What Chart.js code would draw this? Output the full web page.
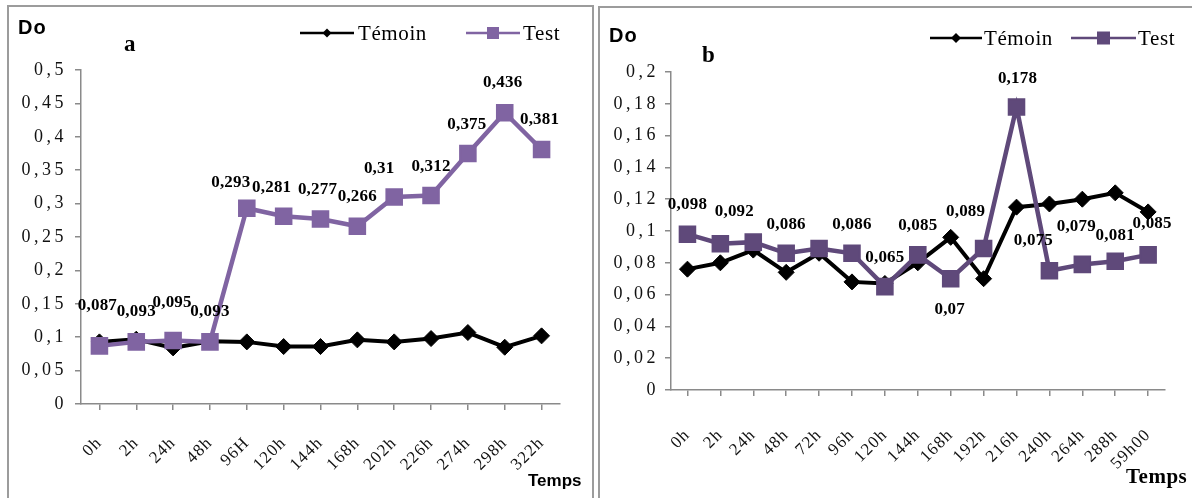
<!DOCTYPE html>
<html>
<head>
<meta charset="utf-8">
<script src="https://cdn.jsdelivr.net/npm/chart.js@4.4.1/dist/chart.umd.min.js"></script>
<style>
  html, body { margin: 0; padding: 0; background: #fff; width: 1192px; height: 498px; overflow: hidden; }
  .panel { position: absolute; border: 2px solid #9c9c9c; border-bottom: none; box-sizing: border-box; }
  #pa { left: 7px; top: 5px; width: 587px; height: 500px; }
  #pb { left: 598px; top: 6px; width: 600px; height: 500px; border-right: none; }
  canvas { position: absolute; top: 0; }
  #ca { left: 0; }
  #cb { left: 596px; }
</style>
</head>
<body>
<div class="panel" id="pa"></div>
<div class="panel" id="pb"></div>
<canvas id="ca" width="596" height="498"></canvas>
<canvas id="cb" width="596" height="498"></canvas>
<script>
// Panel a
const hoursA = ['0h', '2h', '24h', '48h', '96H', '120h', '144h', '168h', '202h', '226h', '274h', '298h', '322h'];
const temoinA = [0.093, 0.097, 0.084, 0.094, 0.093, 0.086, 0.086, 0.096, 0.093, 0.098, 0.107, 0.085, 0.102];
const testA = [0.087, 0.093, 0.095, 0.093, 0.293, 0.281, 0.277, 0.266, 0.31, 0.312, 0.375, 0.436, 0.381];
const yTicksA = [0, 0.05, 0.1, 0.15, 0.2, 0.25, 0.3, 0.35, 0.4, 0.45, 0.5];

// Panel b
const hoursB = ['0h', '2h', '24h', '48h', '72h', '96h', '120h', '144h', '168h', '192h', '216h', '240h', '264h', '288h', '59h00'];
const temoinB = [0.076, 0.08, 0.088, 0.074, 0.086, 0.068, 0.067, 0.08, 0.096, 0.07, 0.115, 0.117, 0.12, 0.124, 0.112];
const testB = [0.098, 0.092, 0.093, 0.086, 0.089, 0.086, 0.065, 0.085, 0.07, 0.089, 0.178, 0.075, 0.079, 0.081, 0.085];
const yTicksB = [0, 0.02, 0.04, 0.06, 0.08, 0.1, 0.12, 0.14, 0.16, 0.18, 0.2];

// Where each value label of the Test series sits relative to its marker (null = no label)
const labelShiftA = [[-2, -40], [0, -30], [-1, -38], [0, -30], [-16, -26], [-12, -29], [-3, -29], [0, -30],
                     [-15, -28], [0, -29], [-1, -29], [-2, -30], [-2, -30]];
const labelShiftB = [[0, -30], [14, -32], null, [0, -29], null, [0, -29], [0, -29], [0, -29],
                     [-1, 31], [-18, -37], [1, -28], [-16, -30], [-6, -38], [0, -26], [4, -31]];

const fmt = v => String(Number(v.toFixed(3))).replace('.', ',');

// Value labels above the Test markers
const valueLabels = {
  id: 'valueLabels',
  afterDatasetsDraw(chart, args, opts) {
    const ctx = chart.ctx;
    const idx = chart.data.datasets.findIndex(d => d.label === 'Test');
    const meta = chart.getDatasetMeta(idx);
    const data = chart.data.datasets[idx].data;
    ctx.save();
    ctx.font = 'bold 17px "Liberation Serif"';
    ctx.letterSpacing = '0.2px';
    ctx.fillStyle = '#000';
    ctx.textAlign = 'center';
    ctx.textBaseline = 'middle';
    meta.data.forEach((pt, i) => {
      const s = opts.shift[i];
      if (!s) return;
      ctx.fillText(fmt(data[i]), pt.x + s[0], pt.y + s[1]);
    });
    ctx.restore();
  }
};

function drawMarker(ctx, style, x, y, r, color) {
  ctx.fillStyle = color;
  ctx.beginPath();
  if (style === 'rectRot') {
    ctx.moveTo(x, y - r); ctx.lineTo(x + r, y); ctx.lineTo(x, y + r); ctx.lineTo(x - r, y);
  } else {
    ctx.rect(x - r, y - r, 2 * r, 2 * r);
  }
  ctx.closePath();
  ctx.fill();
}

// Axis captions, panel letter and legend
const decor = {
  id: 'decor',
  beforeDraw(chart) { chart.ctx.letterSpacing = '3.5px'; },
  beforeDatasetsDraw(chart) { chart.ctx.letterSpacing = '0px'; },
  afterDatasetsDraw(chart) { chart.ctx.letterSpacing = '1.2px'; },
  afterDraw(chart, args, o) {
    const ctx = chart.ctx;
    ctx.save();
    ctx.letterSpacing = '0px';
    ctx.fillStyle = '#000';
    ctx.textAlign = 'left';
    ctx.textBaseline = 'alphabetic';

    ctx.font = 'bold 20px "Liberation Sans"';
    ctx.letterSpacing = '1px';
    ctx.fillText('Do', o.doPos[0], o.doPos[1]);

    ctx.letterSpacing = '0px';
    ctx.font = 'bold 23px "Liberation Serif"';
    ctx.fillText(o.letter, o.letterPos[0], o.letterPos[1]);

    ctx.font = o.tempsFont;
    ctx.letterSpacing = o.tempsSpacing;
    ctx.fillText('Temps', o.tempsPos[0], o.tempsPos[1]);

    ctx.font = o.legendFont;
    ctx.letterSpacing = '0.6px';
    o.legend.forEach(item => {
      const ds = chart.data.datasets.find(d => d.label === item.label);
      ctx.strokeStyle = ds.borderColor;
      ctx.lineWidth = 2.5;
      ctx.beginPath();
      ctx.moveTo(item.x1, item.y);
      ctx.lineTo(item.x2, item.y);
      ctx.stroke();
      drawMarker(ctx, ds.pointStyle, (item.x1 + item.x2) / 2, item.y, item.r, ds.borderColor);
      ctx.fillStyle = '#000';
      ctx.fillText(item.label, item.tx, item.ty);
    });
    ctx.restore();
  }
};

function buildChart(id, p) {
  const axisColor = '#8a8a8a';
  return new Chart(document.getElementById(id), {
    type: 'line',
    data: {
      labels: p.labels,
      datasets: [
        {
          label: 'Témoin', data: p.temoin, order: 1,
          borderColor: '#000', backgroundColor: '#000', borderWidth: 4,
          pointStyle: 'rectRot', pointRadius: p.diamond, pointBorderWidth: 1, tension: 0
        },
        {
          label: 'Test', data: p.test, order: 0,
          borderColor: p.purple, backgroundColor: p.purple, borderWidth: 4.5,
          pointStyle: 'rect', pointRadius: p.square, pointBorderWidth: 2, tension: 0
        }
      ]
    },
    options: {
      responsive: false,
      animation: false,
      events: [],
      layout: { padding: { left: 0, right: p.padRight, top: p.top, bottom: 0 } },
      plugins: {
        legend: { display: false },
        tooltip: { enabled: false },
        valueLabels: { shift: p.shift },
        decor: p.decor
      },
      scales: {
        x: {
          type: 'category',
          offset: true,
          grid: { drawOnChartArea: false, drawTicks: true, tickLength: 6, color: axisColor, lineWidth: 1.5 },
          border: { color: axisColor, width: 1.5, z: 1 },
          ticks: {
            z: 1, autoSkip: false, maxRotation: 45, minRotation: 45, padding: p.xPad,
            font: { family: 'Liberation Serif', size: 17 }, color: '#111'
          },
          afterFit: s => { s.height = p.xHeight; }
        },
        y: {
          min: 0,
          max: p.yTicks[p.yTicks.length - 1],
          afterBuildTicks: s => { s.ticks = p.yTicks.map(v => ({ value: v })); },
          grid: { drawOnChartArea: false, drawTicks: true, tickLength: 6, color: axisColor, lineWidth: 1.5 },
          border: { color: axisColor, width: 1.5 },
          ticks: {
            padding: p.yPad, callback: v => fmt(v),
            font: { family: 'Liberation Serif', size: 18 }, color: '#111'
          },
          afterFit: s => { s.width = p.yWidth; }
        }
      }
    },
    plugins: [valueLabels, decor]
  });
}

buildChart('ca', {
  labels: hoursA, temoin: temoinA, test: testA, yTicks: yTicksA, shift: labelShiftA,
  purple: '#8064A2', diamond: 8, square: 11,
  padRight: 36, top: 70, xHeight: 94, yWidth: 81, xPad: 23, yPad: 8,
  decor: {
    doPos: [18, 34], letter: 'a', letterPos: [124, 51],
    tempsFont: 'bold 17px "Liberation Sans"', tempsSpacing: '0px', tempsPos: [528, 486],
    legendFont: '21px "Liberation Serif"',
    legend: [
      { label: 'Témoin', x1: 300, x2: 354, y: 33, r: 4.5, tx: 358, ty: 40 },
      { label: 'Test', x1: 466, x2: 520, y: 33, r: 6, tx: 523, ty: 40 }
    ]
  }
});

buildChart('cb', {
  labels: hoursB, temoin: temoinB, test: testB, yTicks: yTicksB, shift: labelShiftB,
  purple: '#5F497A', diamond: 8, square: 11,
  padRight: 12, top: 72, xHeight: 108, yWidth: 75, xPad: 29, yPad: 6,
  decor: {
    doPos: [13, 42], letter: 'b', letterPos: [106, 62],
    tempsFont: 'bold 21px "Liberation Serif"', tempsSpacing: '0.5px', tempsPos: [530, 483],
    legendFont: '21px "Liberation Serif"',
    legend: [
      { label: 'Témoin', x1: 334, x2: 386, y: 38, r: 5, tx: 388, ty: 45 },
      { label: 'Test', x1: 475, x2: 540, y: 38, r: 6.5, tx: 542, ty: 45 }
    ]
  }
});
</script>
</body>
</html>
